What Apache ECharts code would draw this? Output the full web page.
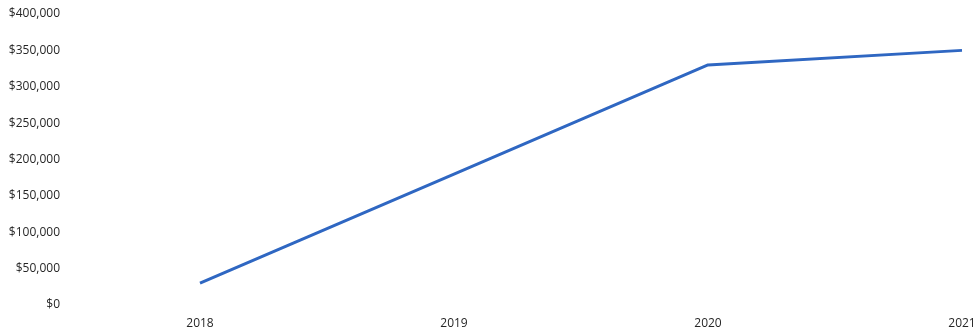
<!DOCTYPE html>
<html>
<head>
<meta charset="utf-8">
<script src="https://cdn.jsdelivr.net/npm/echarts@6/dist/echarts.min.js"></script>
<style>
  html, body { margin: 0; padding: 0; background: #ffffff; }
  #chart { width: 979px; height: 333px; }
</style>
</head>
<body>
<div id="chart"></div>
<script>
// Yearly totals
const years = ['2018', '2019', '2020', '2021'];
const totals = [30000, 180000, 330000, 350000];
const yTicks = [0, 50000, 100000, 150000, 200000, 250000, 300000, 350000, 400000];

const fmt = v => '$' + v.toLocaleString('en-US');

const chart = echarts.init(document.getElementById('chart'), null, { renderer: 'canvas' });
chart.setOption({
  animation: false,
  backgroundColor: '#ffffff',
  grid: { left: 200, right: 17, top: 14, bottom: 28, containLabel: false },
  xAxis: {
    type: 'category',
    data: years,
    boundaryGap: false,
    axisLine: { show: false },
    axisTick: { show: false },
    splitLine: { show: false },
    axisLabel: {
      color: '#262626',
      fontFamily: 'Open Sans',
      fontSize: 12,
      margin: 13
    }
  },
  yAxis: {
    type: 'value',
    min: yTicks[0],
    max: yTicks[yTicks.length - 1],
    interval: 50000,
    axisLine: { show: false },
    axisTick: { show: false },
    splitLine: { show: false },
    axisLabel: {
      color: '#262626',
      fontFamily: 'Open Sans',
      fontSize: 12,
      margin: 140,
      formatter: fmt
    }
  },
  series: [{
    type: 'line',
    data: totals,
    symbol: 'none',
    lineStyle: { color: '#2f67c2', width: 3 },
    itemStyle: { color: '#2f67c2' }
  }]
});
</script>
</body>
</html>
